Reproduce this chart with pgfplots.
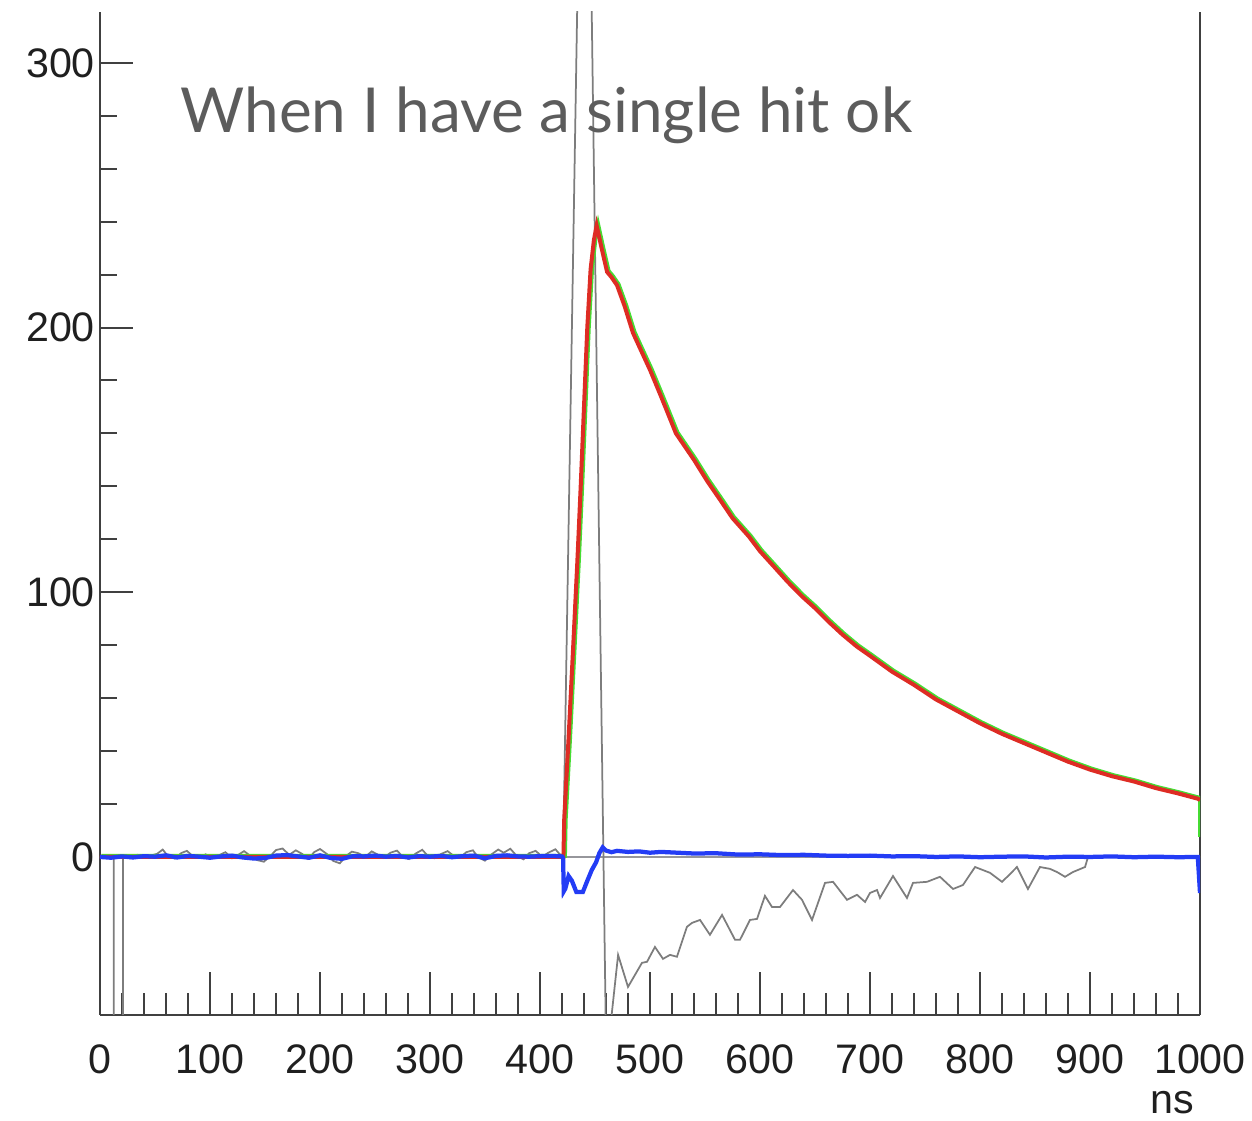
\documentclass[border=0pt]{standalone}
\usepackage{pgfplots}
\pgfplotsset{compat=1.18}
\usepackage{fontspec}
\setmainfont{Liberation Sans}
\newfontfamily\titlefont{Lato}
\definecolor{traceRed}{RGB}{222,44,36}
\definecolor{traceGreen}{RGB}{70,220,50}
\definecolor{traceBlue}{RGB}{35,60,245}
\definecolor{traceGrey}{RGB}{125,125,125}
\definecolor{baseGrey}{RGB}{150,150,155}
\definecolor{titleGrey}{RGB}{92,92,92}

% raw pulse (grey)
\pgfplotstableread{
x y
0 0
12.5 0
12.7 -150
20.8 -150
21 0
22 0
28 -0.5
34 0.8
40 -0.3
46 0.5
52 1.2
57 2.8
62 0.2
68 -0.6
74 1.5
79 2.3
85 0.1
90 -0.4
96 1.0
102 -0.2
108 0.6
114 1.8
120 -0.5
126 0.9
131 2.2
137 0.3
143 -1.2
149 -1.8
155 0.4
160 2.6
166 3.2
172 0.8
178 2.5
184 1.1
189 -0.7
195 1.9
200 3.0
206 1.2
212 -1.5
218 -2.4
224 0.5
229 2.0
235 1.4
241 0.0
247 2.1
252 1.0
258 -0.4
264 1.6
270 2.4
275 0.2
281 -0.8
287 1.3
293 2.7
298 0.4
304 -0.5
310 1.1
316 2.2
321 0.6
327 -0.3
333 1.8
339 2.5
344 -0.2
350 -1.4
356 1.0
362 2.8
367 1.6
373 3.1
379 0.3
385 -0.9
390 1.4
396 2.3
402 0.1
408 1.7
414 2.9
418 1.0
421 0
441 500
462 -130
465.3 -59
471 -37
480 -49.1
492.7 -40.0
497.3 -39.6
504.5 -34.0
511.8 -38.5
518.2 -37.0
524.5 -37.7
533.6 -26.4
538.2 -24.9
545.5 -23.8
554.5 -29.4
565.5 -21.9
577.3 -31.3
581.8 -31.3
590.9 -23.8
597.3 -23.4
604.5 -14.7
610.9 -18.9
618.2 -18.9
630.0 -12.5
638.2 -16.2
647.3 -23.8
659.1 -9.8
666.4 -9.4
679.1 -16.2
688.2 -14.3
695.5 -17.0
700.0 -13.6
706.4 -12.5
709.1 -15.5
720.9 -7.2
733.6 -15.5
739.1 -9.8
751.8 -9.4
763.6 -7.5
775.5 -12.1
784.5 -10.6
795.5 -3.8
809.1 -6.0
820.0 -9.4
825.5 -7.2
833.6 -3.8
843.6 -12.1
854.5 -3.8
863.6 -4.5
870.0 -5.7
877.3 -7.5
884.5 -5.7
895.5 -3.8
898.2 0
1000 0
}\rawpulse

% shaped pulse (red, green underneath)
\pgfplotstableread{
x y
0 0
421.3 0
422 14
426 45
430 78
434 112
437 140
440 170
443 200
446 222
449 233
451.5 238.5
456 230
461 221
465 219
470 216
477 208
484.5 198
490 193
500 184
510 174
523.6 160
540 150
552 142
563.6 135
575 128
590 121
600 115.5
612 110
625 104
638 98.5
650 94
662 89
675 84
688 79.5
700 76
720 70
740 65
760 59.5
780 55
800 50.5
820 46.5
840 43
860 39.5
880 36
900 33
920 30.5
940 28.5
960 26
980 24
998 22
1000 21.5
}\shaped

% baseline-corrected pulse (blue)
\pgfplotstableread{
x y
0 0
10 -0.3
20 0.2
30 -0.2
40 0.3
50 0.1
60 0.6
70 -0.2
80 0.4
90 0.1
100 -0.3
110 0.2
120 0.5
130 -0.2
140 -0.6
150 -0.4
160 0.5
170 0.7
180 0.2
190 -0.3
200 0.6
210 -0.4
220 -0.7
230 0.3
240 0.2
250 0.5
260 0.1
270 0.4
280 -0.2
290 0.3
300 0.1
310 0.4
320 -0.1
330 0.3
340 0.5
350 -0.5
360 0.4
370 0.6
380 0.2
390 0.1
400 0.3
410 0.4
420 0.2
421 -0.5
421.6 -13
423 -12
426 -7.2
429 -9
433 -13.2
439 -13.2
443 -9
447 -5
451 -2
454 1.5
457 3.6
460 2.4
465 1.8
470 2.3
480 1.9
490 2.1
500 1.6
510 1.9
520 1.7
540 1.3
560 1.4
580 0.9
600 1.0
620 0.7
640 0.8
660 0.5
680 0.4
700 0.5
720 0.2
740 0.3
760 0.0
780 0.2
800 -0.1
820 0.1
840 0.2
860 -0.2
880 0.1
900 0.0
920 0.2
940 -0.1
960 0.1
980 -0.1
998 0
1000 -13.6
}\corrected

\begin{document}
\begin{tikzpicture}
\begin{axis}[
  scale only axis,
  width=440pt, height=401.2pt,
  xmin=0, xmax=1000, ymin=-59.7, ymax=319.2,
  axis x line*=bottom, axis y line*=box,
  x axis line style={-}, y axis line style={-},
  axis line style={line width=1pt, black!75},
  xtick={0,100,...,1000}, ytick={0,100,200,300},
  minor x tick num=4, minor y tick num=4,
  ytick pos=left,
  tick align=inside,
  major tick length=13.2pt, minor tick length=6.7pt,
  x tick style={/pgfplots/major tick length=17.2pt, /pgfplots/minor tick length=8.8pt},
  tick style={line width=0.8pt, black!75},
  /pgf/number format/assume math mode=true,
  /pgf/number format/1000 sep={},
  tick label style={font=\fontsize{16.5}{18}\selectfont, text=black!88},
  xticklabel style={yshift=-8.5pt},
  yticklabel style={xshift=1.5pt},
]
\addplot[baseGrey, line width=0.6pt] coordinates {(0,0) (1000,0)};
\addplot[traceGrey, line width=0.7pt] table {\rawpulse};
\addplot[traceGreen, line width=1.6pt, transform canvas={shift={(0.6pt,0.4pt)}}]
  table {\shaped};
\addplot[traceGreen, line width=1.6pt] coordinates {(1000,21.5) (1000,7.5)};
\addplot[traceRed, line width=1.6pt] table {\shaped};
\addplot[traceBlue, line width=1.7pt] table {\corrected};
\node[anchor=base west, inner sep=0, text=titleGrey,
      font=\titlefont\fontsize{24.8}{28}\selectfont]
  at (axis cs:72.7,273.5) {When I have a single hit ok};
\end{axis}
\node[anchor=base east, inner sep=0, font=\fontsize{16.5}{18}\selectfont, text=black!88]
  at ([shift={(-2pt,-39.6pt)}]current axis.south east) {ns};
\pgfresetboundingbox
\path[use as bounding box]
  ([shift={(-40pt,-42.4pt)}]current axis.south west)
  rectangle ([shift={(20.8pt,4.8pt)}]current axis.north east);
\end{tikzpicture}
\end{document}
